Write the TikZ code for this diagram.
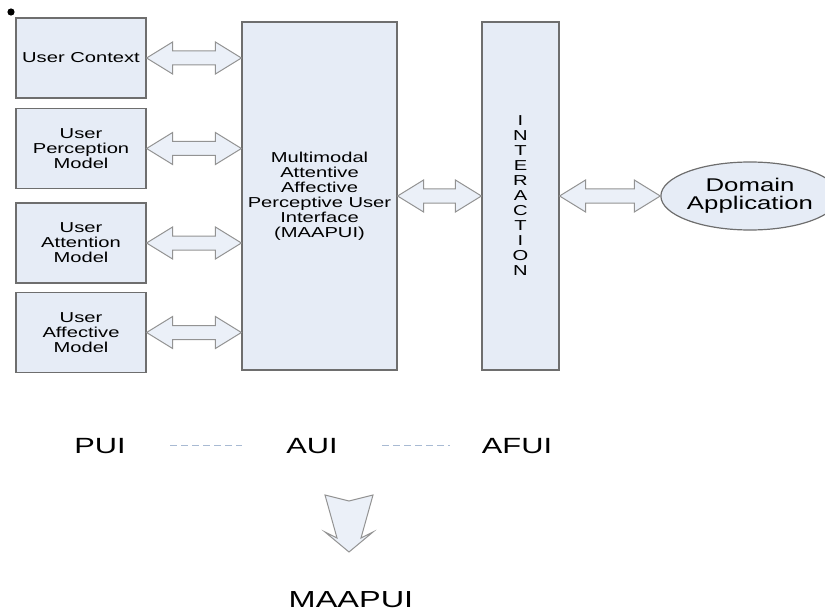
\documentclass[tikz,border=0pt]{standalone}
\usepackage{fontspec}
\setmainfont{Liberation Sans}[FakeStretch=1.4]
\usetikzlibrary{calc,shapes.geometric}
\definecolor{boxfill}{HTML}{E6ECF6}
\definecolor{boxline}{HTML}{6E6E6E}
\definecolor{dashblue}{HTML}{A8BAD3}
\newcommand{\dblarrow}[2]{%
  \draw[blockarrow] let \p1=(#1), \p2=(#2) in
    (\x1,\y1) -- (\x1+13pt,\y1+8pt) -- (\x1+13pt,\y1+3.5pt)
    -- (\x2-13pt,\y1+3.5pt) -- (\x2-13pt,\y1+8pt) -- (\x2,\y1)
    -- (\x2-13pt,\y1-8pt) -- (\x2-13pt,\y1-3.5pt)
    -- (\x1+13pt,\y1-3.5pt) -- (\x1+13pt,\y1-8pt) -- cycle;}
\begin{document}
\begin{tikzpicture}[x=0.5pt,y=-0.5pt,line join=miter,
  ubox/.style={draw=boxline,fill=boxfill,line width=0.6pt,inner sep=0pt,
    align=center,font=\fontsize{7.2}{7.5}\selectfont},
  blockarrow/.style={draw=gray!85,fill=boxfill!80!white,line width=0.5pt},
  lbl/.style={inner sep=0pt,anchor=base,font=\fontsize{11}{12}\selectfont},
  dashline/.style={draw=dashblue,line width=0.5pt,dash pattern=on 3.5pt off 2pt}]
  \useasboundingbox (0,0) rectangle (825,610);

  \fill (11,12) circle (3.6);

  \node[ubox,minimum width=65pt,minimum height=40pt] (uc) at (81,58) {User Context};
  \node[ubox,minimum width=65pt,minimum height=40pt] (upm) at (81,148.5)
    {User\\Perception\\Model};
  \node[ubox,minimum width=65pt,minimum height=40pt] (uam) at (81,243)
    {User\\Attention\\Model};
  \node[ubox,minimum width=65pt,minimum height=40pt] (uaf) at (81,332.5)
    {User\\Affective\\Model};

  \node[ubox,minimum width=77.5pt,minimum height=174pt] (maapui) at (319.5,196)
    {Multimodal\\Attentive\\Affective\\Perceptive User\\Interface\\(MAAPUI)};
  \node[ubox,minimum width=38.5pt,minimum height=174pt] (inter) at (520.5,196)
    {I\\N\\T\\E\\R\\A\\C\\T\\I\\O\\N};
  \node[ubox,ellipse,minimum width=86pt,minimum height=34pt,
    font=\fontsize{9.2}{9}\selectfont] (dom) at (750,196) {Domain\\Application};

  \dblarrow{uc.east}{maapui.west |- uc.east}
  \dblarrow{upm.east}{maapui.west |- upm.east}
  \dblarrow{uam.east}{maapui.west |- uam.east}
  \dblarrow{uaf.east}{maapui.west |- uaf.east}
  \dblarrow{maapui.east}{inter.west}
  \dblarrow{inter.east}{dom.west}

  \node[lbl] (pui) at (100,453) {PUI};
  \node[lbl] (aui) at (312,453) {AUI};
  \node[lbl] (afui) at (517,453) {AFUI};
  \draw[dashline,shorten <=22pt,shorten >=22pt] (pui) -- (aui);
  \draw[dashline,shorten <=22pt,shorten >=16pt] (aui) -- (afui);

  \coordinate (darr) at (349,495);
  \draw[blockarrow,shift={(darr)}] (-24,0) -- (0,6) -- (24,0) -- (12,43)
    -- (24,37) -- (0,57) -- (-24,37) -- (-12,43) -- cycle;
  \node[lbl,font=\fontsize{11.6}{12}\selectfont] (maapuilbl) at (351,607) {MAAPUI};
\end{tikzpicture}
\end{document}
